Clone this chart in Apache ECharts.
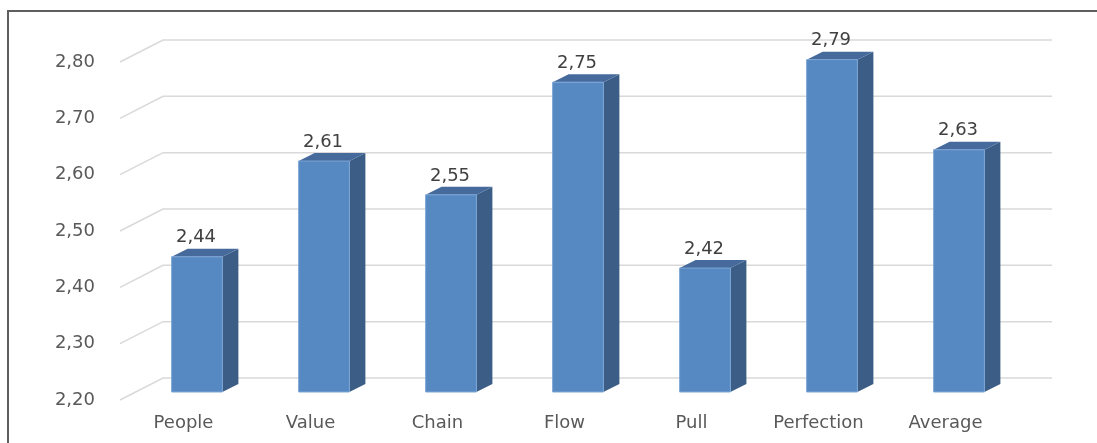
<!DOCTYPE html>
<html>
<head>
<meta charset="utf-8">
<script src="https://cdn.jsdelivr.net/npm/echarts@6/dist/echarts.min.js"></script>
<style>
html,body{margin:0;padding:0;background:#fff;}
#chart{width:1097px;height:443px;}
</style>
</head>
<body>
<div id="chart"></div>
<script>
var categories = ['People', 'Value', 'Chain', 'Flow', 'Pull', 'Perfection', 'Average'];
var values = [2.44, 2.61, 2.55, 2.75, 2.42, 2.79, 2.63];
var yTicks = [2.2, 2.3, 2.4, 2.5, 2.6, 2.7, 2.8];

var FONT = 'DejaVu Sans';
var TEXT = '#595959';
var DEPTH = [43, -22];     // back wall offset from front plane
var BAR_POS = [13.5, -8];  // bar front face offset from front plane
var BAR_DEPTH = [16, -8];  // bar thickness
function fmt(v) { return v.toFixed(2).replace('.', ','); }

var chart = echarts.init(document.getElementById('chart'));
chart.setOption({
  animation: false,
  backgroundColor: '#ffffff',
  grid: { left: 120, top: 62, width: 889, height: 338 },
  xAxis: {
    type: 'category',
    data: categories,
    axisLine: { show: false },
    axisTick: { show: false },
    splitLine: { show: false },
    axisLabel: { color: TEXT, fontFamily: FONT, fontSize: 18, margin: 14 }
  },
  yAxis: {
    type: 'value',
    min: 2.2, max: 2.8, interval: 0.1,
    axisLine: { show: false },
    axisTick: { show: false },
    splitLine: { show: false },
    axisLabel: { color: TEXT, fontFamily: FONT, fontSize: 18, margin: 25,
      formatter: function (v) { return fmt(v); } }
  },
  graphic: [{
    type: 'polyline',
    shape: { points: [[8, 443], [8, 11], [1097, 11]] },
    style: { stroke: '#5f5f5f', lineWidth: 2, fill: null }
  }],
  series: [{
    type: 'custom',
    name: 'grid',
    silent: true,
    z: 1,
    data: yTicks.map(function (t) { return [0, t]; }),
    renderItem: function (params, api) {
      var cs = params.coordSys;
      var y = api.coord([0, api.value(1)])[1];
      var x0 = cs.x, x1 = cs.x + cs.width;
      return {
        type: 'polyline',
        shape: { points: [[x0, y], [x0 + DEPTH[0], y + DEPTH[1]], [x1 + DEPTH[0], y + DEPTH[1]]] },
        style: { stroke: '#d9d9d9', lineWidth: 1.5, fill: null }
      };
    }
  }, {
    type: 'custom',
    name: 'bars',
    z: 5,
    data: values.map(function (v, i) { return [i, v]; }),
    renderItem: function (params, api) {
      var i = api.value(0), v = api.value(1);
      var base = api.coord([i, 2.2]);
      var top = api.coord([i, v]);
      var w = api.size([1, 0])[0] * 0.4;
      var xl = base[0] + BAR_POS[0] - w / 2;
      var xr = xl + w;
      var yb = base[1] + BAR_POS[1];
      var yt = top[1] + BAR_POS[1];
      var dx = BAR_DEPTH[0], dy = BAR_DEPTH[1];
      return {
        type: 'group',
        children: [{
          type: 'polygon',
          shape: { points: [[xr, yt], [xr + dx, yt + dy], [xr + dx, yb + dy], [xr, yb]] },
          style: { fill: '#3c5e86' }
        }, {
          type: 'polygon',
          shape: { points: [[xl, yt], [xr, yt], [xr + dx, yt + dy], [xl + dx, yt + dy]] },
          style: { fill: '#456a9b' }
        }, {
          type: 'rect',
          shape: { x: xl, y: yt, width: w, height: yb - yt },
          style: { fill: '#5689c2', stroke: '#7ea6d6', lineWidth: 1 }
        }, {
          type: 'text',
          x: (xl + xr) / 2 - 1,
          y: yt - 19,
          style: { text: fmt(v), fill: '#404040', font: '18px "DejaVu Sans"',
            align: 'center', verticalAlign: 'middle' }
        }]
      };
    }
  }]
});
</script>
</body>
</html>
